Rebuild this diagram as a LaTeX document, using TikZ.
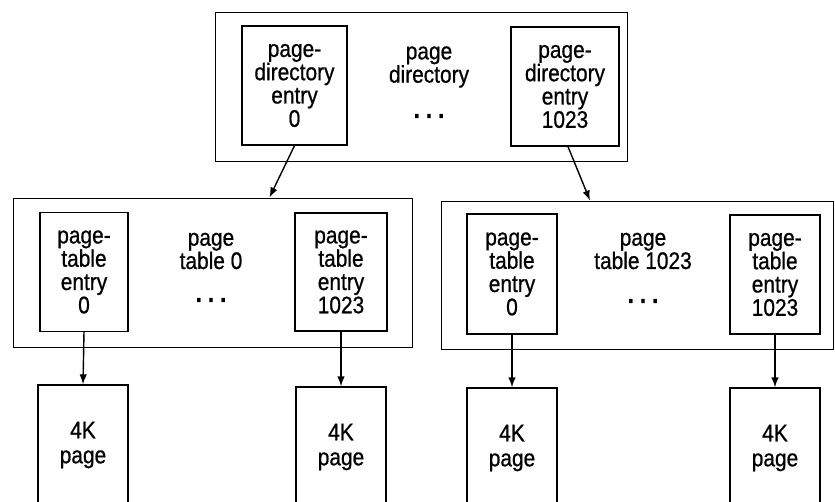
\documentclass[tikz,border=0pt]{standalone}
\usepackage{fontspec}
\setmainfont{Liberation Sans}[FakeStretch=0.87, FakeBold=0.7]
\usetikzlibrary{arrows.meta}

\tikzset{
  tablebox/.style={draw, line width=1pt, inner sep=0pt},
  entrybox/.style={draw, line width=1.3pt, fill=white, inner sep=0pt, align=center,
    font=\fontsize{24}{23.3}\selectfont},
  pagebox/.style={draw, line width=1.3pt, fill=white, inner sep=0pt, align=center,
    minimum width=90pt, minimum height=120pt, font=\fontsize{24}{25}\selectfont},
  caption/.style={align=center, inner sep=0pt, font=\fontsize{24}{23.3}\selectfont},
  dots/.style={inner sep=0pt, font=\fontsize{26}{26}\selectfont\bfseries},
  ptr/.style={line width=1.4pt, -{Latex[length=10pt,width=7.5pt]}}
}

\begin{document}
\begin{tikzpicture}[x=1pt, y=-1pt]
  \useasboundingbox (0,0) rectangle (835,501);
  \clip (0,0) rectangle (835,501);

  % page directory
  \node[tablebox, minimum width=412pt, minimum height=149pt] (pd) at (421,86.5) {};
  \node[entrybox, minimum width=105pt, minimum height=119pt] (pde0) at (294.5,85.5)
    {page-\\directory\\entry\\0};
  \node[entrybox, minimum width=108pt, minimum height=119pt] (pden) at (565,86.5)
    {page-\\directory\\entry\\1023};
  \node[caption] (pdcap) at (429,67) {page\\directory};
  \node[dots] (pddots) at (429,116) {.\hspace{6pt}.\hspace{6pt}.};

  % page table 0
  \node[tablebox, minimum width=399pt, minimum height=149pt] (pt0) at (212.5,272.5) {};
  \node[entrybox, minimum width=88pt, minimum height=119pt] (pt0e0) at (84,272)
    {page-\\table\\entry\\0};
  \node[entrybox, minimum width=92pt, minimum height=118pt] (pt0en) at (341,272)
    {page-\\table\\entry\\1023};
  \node[caption] (pt0cap) at (211,251) {page\\table 0};
  \node[dots] (pt0dots) at (211,300) {.\hspace{6pt}.\hspace{6pt}.};

  % page table 1023
  \node[tablebox, minimum width=392pt, minimum height=148pt] (ptn) at (637,275) {};
  \node[entrybox, minimum width=90pt, minimum height=120pt] (ptne0) at (512,274)
    {page-\\table\\entry\\0};
  \node[entrybox, minimum width=90pt, minimum height=119pt] (ptnen) at (775,274.5)
    {page-\\table\\entry\\1023};
  \node[caption] (ptncap) at (643,251) {page\\table 1023};
  \node[dots] (ptndots) at (643,301) {.\hspace{6pt}.\hspace{6pt}.};

  % 4K pages (running off the lower edge)
  \node[pagebox] (pg1) at (83,445) {4K\\page};
  \node[pagebox] (pg2) at (341,447) {4K\\page};
  \node[pagebox] (pg3) at (512,448) {4K\\page};
  \node[pagebox] (pg4) at (775,448) {4K\\page};

  % pointers
  \draw[ptr] (pde0.south) -- ([xshift=57pt]pt0.north);
  \draw[ptr] ([xshift=3pt]pden.south) -- ([xshift=-47pt]ptn.north);
  \draw[ptr] (pt0e0.south) -- (pg1.north);
  \draw[ptr] (pt0en.south) -- (pg2.north);
  \draw[ptr] (ptne0.south) -- (pg3.north);
  \draw[ptr] (ptnen.south) -- (pg4.north);
\end{tikzpicture}
\end{document}
